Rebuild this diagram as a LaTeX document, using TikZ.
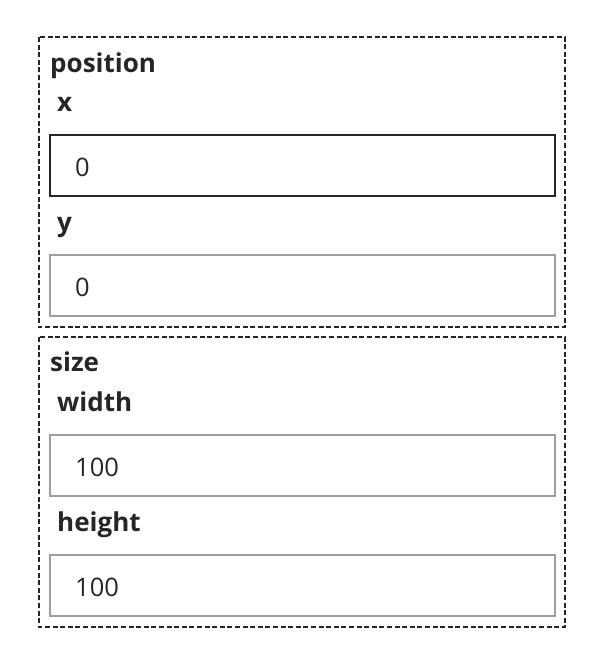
\documentclass[tikz,border=0pt]{standalone}
\usepackage{fontspec}
\setmainfont{Open Sans}
\definecolor{darkline}{HTML}{262626}
\definecolor{greyline}{HTML}{9E9E9E}
\begin{document}
\begin{tikzpicture}[x=1pt,y=-1pt,
  group/.style={draw=darkline, line width=2pt, dash pattern=on 5pt off 2.6pt},
  field/.style={draw=greyline, line width=2pt, minimum width=505pt, minimum height=61pt, inner sep=0pt},
  focused/.style={field, draw=darkline},
  title/.style={anchor=base west, inner sep=0pt, font=\fontsize{26}{30}\selectfont\bfseries, text=darkline},
  value/.style={anchor=base west, inner sep=0pt, font=\fontsize{25.5}{30}\selectfont, text=darkline}]
\useasboundingbox (0,0) rectangle (604,648);
\draw[group] (38.5,37) rectangle (565,327);
\draw[group] (38.5,337) rectangle (565,627);
\node[title] (tpos) at (50,72){position};
\node[title] (tx) at (57,111.5){x};
\node[focused] (fx) at (302,165.5){};
\node[value] (vx) at (75,176.5){0};
\node[title] (ty) at (57,231.5){y};
\node[field] (fy) at (302,285.5){};
\node[value] (vy) at (75,296.5){0};
\node[title] (tsize) at (50,371.5){size};
\node[title] (tw) at (57,411.5){width};
\node[field] (fw) at (302,465.5){};
\node[value] (vw) at (75,476.5){100};
\node[title] (th) at (57,531.5){height};
\node[field] (fh) at (302,585.5){};
\node[value] (vh) at (75,596.5){100};
\end{tikzpicture}
\end{document}
